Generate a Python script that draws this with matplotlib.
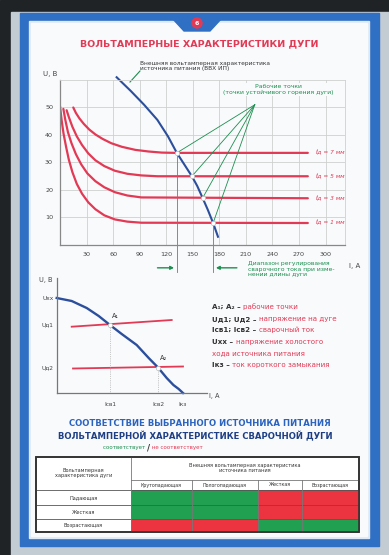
import numpy as np
import matplotlib.pyplot as plt
from matplotlib.patches import Rectangle, Polygon, Circle

# ---- upper chart: arc characteristics for several arc lengths (I, A ; U, B)
arc_labels = ['ℓд = 7 мм', 'ℓд = 5 мм', 'ℓд = 3 мм', 'ℓд = 1 мм']
arc_I = [
    [15, 18, 22, 27, 33, 40, 48, 58, 70, 85, 100, 115, 130, 280],
    [7.5, 10, 14, 19, 25, 32, 40, 50, 62, 76, 92, 110, 280],
    [3.8, 6, 9, 13, 18, 24, 31, 40, 50, 62, 76, 92, 280],
    [0, 2, 4, 7, 10, 14, 19, 25, 32, 40, 50, 62, 76, 92, 280],
]
arc_U = [
    [50, 48, 46, 44, 42, 40.2, 38.6, 37, 35.7, 34.6, 34, 33.6, 33.5, 33.5],
    [49, 46.5, 43, 39.5, 36.3, 33.3, 30.8, 28.7, 27, 25.9, 25.3, 25, 25],
    [49.5, 45.5, 41, 37, 33, 29.3, 26, 23.2, 21, 19.2, 18, 17.3, 17],
    [50.5, 45, 40.5, 35.5, 31, 26.5, 22.2, 18.6, 15.5, 13, 10.8, 9.3, 8.5, 8.1, 8],
]
src_I = [64, 80, 95, 110, 122, 132, 141, 149, 155, 161, 167, 173, 178.5]
src_U = [61, 56, 51, 45.5, 39.5, 33.5, 29, 25, 21.5, 17.2, 12.8, 8, 3]
work_I = [132, 149, 161, 173]
work_U = [33.5, 25, 17, 8]
x_ticks = [30, 60, 90, 120, 150, 180, 210, 240, 270, 300]
y_ticks = [10, 20, 30, 40, 50]

# ---- lower chart (schematic, arbitrary units)
sch_src_I = [0, 15, 30, 42, 53.3, 65, 80, 92, 101.3, 110, 116.7, 122, 126.3]
sch_src_U = [95, 92, 85, 77, 68, 59, 48, 35, 25.5, 15, 8, 4, 0]
sch_arc1_I = [15, 115]
sch_arc1_U = [66.3, 73]
sch_arc2_I = [16.3, 126.3]
sch_arc2_U = [24.5, 26.5]
sch_pts_I = [53.3, 101.3]
sch_pts_U = [68.5, 25.5]

# ---- table
col_names = ['Крутопадающая', 'Пологопадающая', 'Жесткая', 'Возрастающая']
row_names = ['Падающая', 'Жесткая', 'Возрастающая']
match = [[1, 1, 0, 0],
         [1, 1, 0, 0],
         [0, 0, 1, 1]]

RED = '#e23a55'
BLUE = '#2b4f9c'
GREEN = '#1b8f4f'
FRAME = '#2f6fc4'
GRID = '#cfcfcf'

fig = plt.figure(figsize=(3.89, 5.55), dpi=100)
bg = fig.add_axes([0, 0, 1, 1])
bg.set_xlim(0, 389)
bg.set_ylim(555, 0)
bg.axis('off')

# background and poster frame
bg.add_patch(Rectangle((0, 0), 389, 555, color='#1f2326'))
bg.add_patch(Rectangle((11, 12), 378, 543, color='#c3cbd3'))
bg.add_patch(Rectangle((20, 13), 359, 533, color=FRAME))
bg.add_patch(Rectangle((29, 21), 340, 517, color='#dfe9f5'))
bg.add_patch(Rectangle((31, 23), 336, 513, color='#f9fafc'))
bg.add_patch(Polygon([(172, 18), (222, 18), (210, 31), (184, 31)], color=FRAME))
bg.add_patch(Circle((197, 23), 5, color=RED))
bg.text(197, 23.5, '6', color='white', fontsize=4.5, ha='center', va='center', weight='bold')

bg.text(199, 44, 'ВОЛЬТАМПЕРНЫЕ ХАРАКТЕРИСТИКИ ДУГИ', color=RED, fontsize=6.8,
        weight='bold', ha='center', va='center')
bg.text(140, 66, 'Внешняя вольтамперная характеристика\nисточника питания (ВВХ ИП)',
        color='#333333', fontsize=4.2, ha='left', va='center', linespacing=1.2)
bg.plot([130, 140], [82, 71], color=GREEN, lw=0.8)

# ---- upper chart
ax = fig.add_axes([60 / 389, 1 - 245 / 555, 285 / 389, 165 / 555])
ax.set_facecolor('none')
ax.set_xlim(0, 322)
ax.set_ylim(0, 60)
ax.set_xticks(x_ticks)
ax.set_yticks(y_ticks)
ax.grid(True, color=GRID, lw=0.6)
ax.tick_params(length=0, labelsize=4.6, labelcolor='#444444', pad=5)
for s in ['top', 'right']:
    ax.spines[s].set_color(GRID)
    ax.spines[s].set_linewidth(0.6)
for s in ['left', 'bottom']:
    ax.spines[s].set_color('#888888')
    ax.spines[s].set_linewidth(0.9)
ax.text(-3, 62, 'U, B', fontsize=5, color='#444444', ha='right', va='center')
ax.text(327, -7.5, 'I, A', fontsize=5, color='#444444', ha='left', va='center', clip_on=False)

for I, U, lab in zip(arc_I, arc_U, arc_labels):
    ax.plot(I, U, color=RED, lw=1.6, solid_capstyle='round')
    ax.text(288, U[-1], lab, color=RED, fontsize=4.2, style='italic', va='center', clip_on=False)

ax.plot(src_I, src_U, color=BLUE, lw=1.5, clip_on=False)
for i in [0, 3]:
    ax.plot([work_I[i], work_I[i]], [work_U[i], -10], color='#777777', lw=0.6, clip_on=False)
apex = (220, 51)
for wi, wu in zip(work_I, work_U):
    ax.plot([apex[0], wi], [apex[1], wu], color=GREEN, lw=0.6)
ax.scatter(work_I, work_U, s=10, color='white', edgecolor='#bbbbbb', lw=0.5, zorder=5)
ax.text(247, 56.5, 'Рабочие точки\n(точки устойчивого горения дуги)', color=GREEN,
        fontsize=4.4, ha='center', va='center', linespacing=1.3,
        bbox=dict(facecolor='#f9fafc', edgecolor='none', pad=0.5))
ax.annotate('', xy=(work_I[0], -8.3), xytext=(107, -8.3), annotation_clip=False,
            arrowprops=dict(arrowstyle='-|>', color=GREEN, lw=1.0, mutation_scale=5))
ax.annotate('', xy=(work_I[3], -8.3), xytext=(203, -8.3), annotation_clip=False,
            arrowprops=dict(arrowstyle='-|>', color=GREEN, lw=1.0, mutation_scale=5))
ax.text(212, -8.8, 'Диапазон регулирования\nсварочного тока при изме-\nнении длины дуги',
        color=GREEN, fontsize=4.4, ha='left', va='center', linespacing=1.2, clip_on=False)

# ---- lower chart
ax2 = fig.add_axes([56.7 / 389, 1 - 393 / 555, 150 / 389, 115 / 555])
ax2.set_facecolor('none')
ax2.set_xlim(0, 150)
ax2.set_ylim(0, 115)
ax2.set_xticks([])
ax2.set_yticks([])
for s in ['top', 'right']:
    ax2.spines[s].set_visible(False)
for s in ['left', 'bottom']:
    ax2.spines[s].set_color('#777777')
    ax2.spines[s].set_linewidth(0.9)
ax2.plot(sch_arc1_I, sch_arc1_U, color=RED, lw=1.3)
ax2.plot(sch_arc2_I, sch_arc2_U, color=RED, lw=1.3)
ax2.plot(sch_src_I, sch_src_U, color=BLUE, lw=1.7, clip_on=False)
for xi, yi in zip(sch_pts_I, sch_pts_U):
    ax2.plot([xi, xi], [0, yi], color='#999999', lw=0.5, ls=':')
ax2.scatter(sch_pts_I, sch_pts_U, s=10, color='white', edgecolor='#bbbbbb', lw=0.5, zorder=5)
ax2.text(sch_pts_I[0] + 2, sch_pts_U[0] + 7, 'A₁', fontsize=4.8, color='#333333')
ax2.text(sch_pts_I[1] + 2, sch_pts_U[1] + 7, 'A₂', fontsize=4.8, color='#333333')
ax2.text(-4, 113, 'U, B', fontsize=4.8, color='#444444', ha='right', va='center', clip_on=False)
ax2.text(152, -3, 'I, A', fontsize=4.8, color='#444444', ha='left', va='center', clip_on=False)
for lab, yv in zip(['Uхх', 'Uд1', 'Uд2'], [sch_src_U[0], sch_pts_U[0], sch_pts_U[1]]):
    ax2.text(-3, yv, lab, fontsize=4.2, color='#444444', ha='right', va='center', clip_on=False)
for lab, xv in zip(['Iсв1', 'Iсв2', 'Iкз'], [sch_pts_I[0], sch_pts_I[1], sch_src_I[-1]]):
    ax2.text(xv, -11, lab, fontsize=4.2, color='#444444', ha='center', va='center', clip_on=False)

legend_rows = [('A₁; A₂ – ', 'рабочие точки'),
               ('Uд1; Uд2 – ', 'напряжение на дуге'),
               ('Iсв1; Iсв2 – ', 'сварочный ток'),
               ('Uхх – ', 'напряжение холостого'),
               ('', 'хода источника питания'),
               ('Iкз – ', 'ток короткого замыкания')]
for k, (pre, txt) in enumerate(legend_rows):
    yy = 307 + k * 11.6
    t = bg.text(212, yy, pre, fontsize=5.1, color='#333333', va='center', weight='bold')
    bg.annotate(txt, xy=(1, 0.5), xycoords=t, fontsize=5.1, color=RED, va='center')

# ---- headings for the table
bg.text(200, 424, 'СООТВЕТСТВИЕ ВЫБРАННОГО ИСТОЧНИКА ПИТАНИЯ', color='#2a63c0',
        fontsize=6.1, weight='bold', ha='center', va='center')
bg.text(195, 436, 'ВОЛЬТАМПЕРНОЙ ХАРАКТЕРИСТИКЕ СВАРОЧНОЙ ДУГИ', color='#1e3f86',
        fontsize=6.1, weight='bold', ha='center', va='center')
t = bg.text(103, 448, 'соответствует ', color=GREEN, fontsize=4, va='center')
t = bg.annotate('/', xy=(1, 0.5), xycoords=t, color='#333333', fontsize=6, va='center', weight='bold')
bg.annotate(' не соответствует', xy=(1, 0.5), xycoords=t, color=RED, fontsize=4, va='center')

# ---- table
tx0, tx1 = 36, 359
ty0, ty_sub, ty_body, ty1 = 457, 480, 490, 532
col_x = [131, 192, 258, 302, 359]
row_y = [490, 505, 519, 532]
bg.add_patch(Rectangle((tx0, ty0), tx1 - tx0, ty1 - ty0, facecolor='white', edgecolor='#333333', lw=1.2, zorder=3))
for r in range(3):
    for c in range(4):
        bg.add_patch(Rectangle((col_x[c], row_y[r]), col_x[c + 1] - col_x[c], row_y[r + 1] - row_y[r],
                               facecolor='#20a050' if match[r][c] else '#ec3340', edgecolor='none', zorder=4))
    bg.text((tx0 + col_x[0]) / 2, (row_y[r] + row_y[r + 1]) / 2, row_names[r], fontsize=3.6,
            color='#333333', ha='center', va='center', zorder=6)
    bg.plot([tx0, tx1], [row_y[r], row_y[r]], color='#555555', lw=0.6, zorder=5)
for c in range(4):
    bg.text((col_x[c] + col_x[c + 1]) / 2, (ty_sub + ty_body) / 2, col_names[c], fontsize=3.4,
            color='#333333', ha='center', va='center', zorder=6)
    bg.plot([col_x[c], col_x[c]], [ty_sub if c else ty0, ty1], color='#777777', lw=0.6, zorder=5)
bg.plot([col_x[0], tx1], [ty_sub, ty_sub], color='#777777', lw=0.6, zorder=5)
bg.text((tx0 + col_x[0]) / 2, 473, 'Вольтамперная\nхарактеристика дуги', fontsize=3.6,
        color='#333333', ha='center', va='center', linespacing=1.2, zorder=6)
bg.text((col_x[0] + tx1) / 2, 468, 'Внешняя вольтамперная характеристика\nисточника питания',
        fontsize=3.6, color='#333333', ha='center', va='center', linespacing=1.2, zorder=6)
bg.add_patch(Rectangle((tx0, ty0), tx1 - tx0, ty1 - ty0, facecolor='none', edgecolor='#333333', lw=1.2, zorder=7))

fig.savefig('out.png', dpi=100)
